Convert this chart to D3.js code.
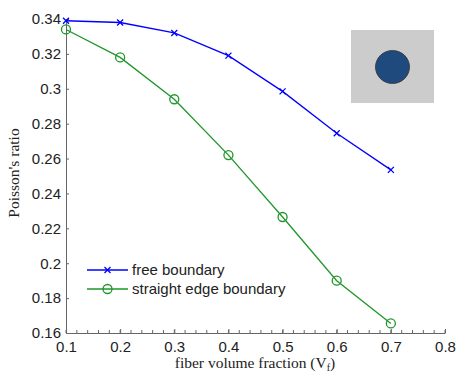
<!DOCTYPE html>
<html>
<head>
<meta charset="utf-8">
<script src="https://cdn.jsdelivr.net/npm/d3@7"></script>
<style>
  body { margin: 0; background: #fff; }
  svg { display: block; }
</style>
</head>
<body>
<div id="chart"></div>
<script>
// Poisson's ratio vs fiber volume fraction
const fractions = [0.1, 0.2, 0.3, 0.4, 0.5, 0.6, 0.7];
const freeBoundary = [0.339, 0.338, 0.332, 0.319, 0.2985, 0.2745, 0.2535];
const straightEdge = [0.334, 0.318, 0.294, 0.262, 0.2265, 0.19, 0.1655];
const xTicks = [0.1, 0.2, 0.3, 0.4, 0.5, 0.6, 0.7, 0.8];
const yTicks = [0.16, 0.18, 0.2, 0.22, 0.24, 0.26, 0.28, 0.3, 0.32, 0.34];
const seriesNames = ['free boundary', 'straight edge boundary'];

const width = 457, height = 374;
const margin = { top: 19, right: 12, bottom: 41, left: 66 };

const svg = d3.select('#chart')
    .append('svg')
    .attr('width', width)
    .attr('height', height);

const x = d3.scaleLinear()
    .domain([0.1, 0.8])
    .range([margin.left, width - margin.right]);

const y = d3.scaleLinear()
    .domain([0.16, 0.34])
    .range([height - margin.bottom, margin.top]);

const axisColor = '#666';
const tickFont = '"Liberation Sans", Arial, sans-serif';
const serif = '"Liberation Serif", "Times New Roman", serif';

// x axis: major ticks labelled, minor ticks every 0.02, all pointing inward
const xAxis = svg.append('g')
    .attr('transform', `translate(0,${y(0.16)})`)
    .call(d3.axisBottom(x).tickValues(xTicks).tickSizeInner(-4).tickSizeOuter(0)
        .tickFormat(d => d3.format('.1f')(d)).tickPadding(8));
xAxis.select('.domain').attr('stroke', axisColor);
xAxis.selectAll('.tick line').attr('stroke', axisColor);
xAxis.selectAll('text')
    .attr('font-family', tickFont).attr('font-size', 15).attr('fill', '#222');

const minor = d3.range(0.1, 0.8001, 0.02);
svg.append('g')
    .selectAll('line')
    .data(minor)
    .enter()
    .append('line')
    .attr('x1', d => x(d)).attr('x2', d => x(d))
    .attr('y1', y(0.16)).attr('y2', y(0.16) - 3)
    .attr('stroke', axisColor);

// y axis
const yAxis = svg.append('g')
    .attr('transform', `translate(${x(0.1)},0)`)
    .call(d3.axisLeft(y).tickValues(yTicks).tickSizeInner(-3).tickSizeOuter(0)
        .tickFormat(d => d3.format('')(+d.toFixed(2))).tickPadding(5));
yAxis.select('.domain').attr('stroke', axisColor);
yAxis.selectAll('.tick line').attr('stroke', axisColor);
yAxis.selectAll('text')
    .attr('font-family', tickFont).attr('font-size', 15).attr('fill', '#222');

// axis titles
const xLabel = svg.append('text')
    .attr('x', 255)
    .attr('y', 368)
    .attr('text-anchor', 'middle')
    .attr('font-family', serif)
    .attr('font-size', 15.5)
    .attr('fill', '#222');
xLabel.append('tspan').text('fiber volume fraction (V');
xLabel.append('tspan').attr('font-size', 10).attr('dy', 3).text('f');
xLabel.append('tspan').attr('dy', -3).text(')');

svg.append('text')
    .attr('transform', `translate(19,173) rotate(-90)`)
    .attr('text-anchor', 'middle')
    .attr('font-family', serif)
    .attr('font-size', 15.5)
    .attr('fill', '#222')
    .text("Poisson's ratio");

// series
const blue = '#0000ff';
const green = '#1f962a';

const line = d3.line()
    .x(d => x(d[0]))
    .y(d => y(d[1]));

const freeData = fractions.map((f, i) => [f, freeBoundary[i]]);
const edgeData = fractions.map((f, i) => [f, straightEdge[i]]);

svg.append('path')
    .datum(freeData)
    .attr('fill', 'none')
    .attr('stroke', blue)
    .attr('stroke-width', 1.3)
    .attr('d', line);

svg.append('path')
    .datum(edgeData)
    .attr('fill', 'none')
    .attr('stroke', green)
    .attr('stroke-width', 1.3)
    .attr('d', line);

function drawCross(g, cx, cy) {
    const s = 3;
    g.append('path')
        .attr('d', `M${cx - s},${cy - s}L${cx + s},${cy + s}M${cx - s},${cy + s}L${cx + s},${cy - s}`)
        .attr('stroke', blue)
        .attr('stroke-width', 1.3)
        .attr('fill', 'none');
}

const crosses = svg.append('g');
freeData.forEach(d => drawCross(crosses, x(d[0]), y(d[1])));

svg.append('g')
    .selectAll('circle')
    .data(edgeData)
    .enter()
    .append('circle')
    .attr('cx', d => x(d[0]))
    .attr('cy', d => y(d[1]))
    .attr('r', 4.5)
    .attr('fill', 'none')
    .attr('stroke', green)
    .attr('stroke-width', 1.3);

// legend
const legend = svg.append('g');
const legendRows = [
    { name: seriesNames[0], color: blue, y: 270 },
    { name: seriesNames[1], color: green, y: 289 }
];
legendRows.forEach((r, i) => {
    legend.append('line')
        .attr('x1', 87).attr('x2', 128)
        .attr('y1', r.y).attr('y2', r.y)
        .attr('stroke', r.color).attr('stroke-width', 1.3);
    if (i === 0) drawCross(legend, 107.5, r.y);
    else legend.append('circle')
        .attr('cx', 107.5).attr('cy', r.y).attr('r', 4.5)
        .attr('fill', 'none').attr('stroke', r.color).attr('stroke-width', 1.3);
    legend.append('text')
        .attr('x', 132)
        .attr('y', r.y + 5)
        .attr('font-family', tickFont)
        .attr('font-size', 15)
        .attr('fill', '#222')
        .text(r.name);
});

// inset: fiber cross-section
svg.append('rect')
    .attr('x', 351).attr('y', 30)
    .attr('width', 83).attr('height', 73)
    .attr('fill', '#cccccc');
svg.append('ellipse')
    .attr('cx', 392.5).attr('cy', 67)
    .attr('rx', 17).attr('ry', 16.5)
    .attr('fill', '#1f4a7d')
    .attr('stroke', '#333')
    .attr('stroke-width', 0.8);
</script>
</body>
</html>
